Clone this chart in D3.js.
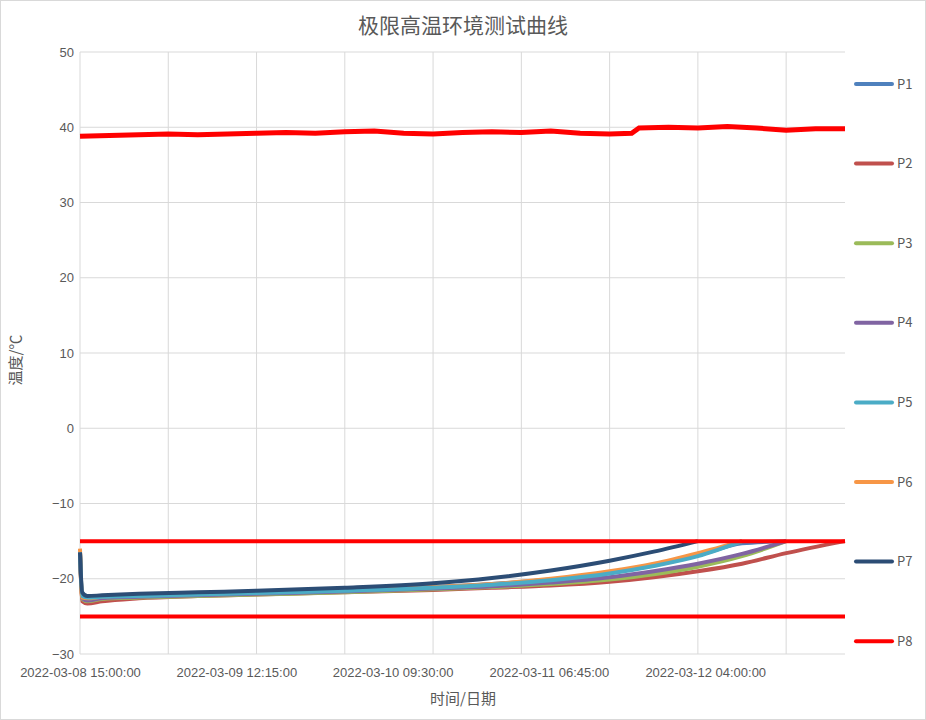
<!DOCTYPE html>
<html lang="zh">
<head>
<meta charset="UTF-8" />
<script src="https://d3js.org/d3.v7.min.js"></script>
<style>
    body { margin: 0; background: #fff; font-family: "Noto Sans CJK SC", "Noto Sans", sans-serif; }
    .axis text { fill: #595959; font-size: 13px; }
</style>
</head>
<body>
<svg id="chart" width="926" height="720"></svg>
<script>
    // hours since 2022-03-08 15:00
    const hours = [0, 0.3, 1, 3, 8, 16, 24, 36, 48, 56, 64, 72, 78, 84, 90, 96, 104];
    const seriesNames = ["P1", "P2", "P3", "P4", "P5", "P6", "P7", "P8"];
    const colors = ["#4f81bd", "#c0504d", "#9bbb59", "#8064a2", "#4bacc6", "#f79646", "#2c4d75", "#ff0000"];
    const p1 = [-16.5, -22.4, -22.6, -22.4, -22.2, -22.0, -21.8, -21.5, -21.1, -20.7, -20.1, -19.2, -18.2, -16.9, -15.3, -15.0, null];
    const p2 = [-16.5, -23.0, -23.3, -23.0, -22.6, -22.3, -22.1, -21.8, -21.5, -21.2, -20.9, -20.4, -19.8, -19.0, -18.0, -16.6, -15.0];
    const p3 = [-16.5, -22.7, -23.0, -22.7, -22.5, -22.3, -22.1, -21.8, -21.4, -21.1, -20.7, -20.1, -19.4, -18.4, -17.0, -15.0, null];
    const p4 = [-16.5, -22.6, -22.9, -22.6, -22.4, -22.2, -22.0, -21.7, -21.3, -21.0, -20.5, -19.8, -19.0, -18.0, -16.7, -15.0, null];
    const p5 = [-16.5, -22.3, -22.5, -22.4, -22.3, -22.1, -21.9, -21.6, -21.2, -20.8, -20.2, -19.3, -18.3, -17.0, -15.0, null, null];
    const p6 = [-16.0, -22.5, -22.6, -22.4, -22.2, -22.0, -21.8, -21.5, -21.1, -20.7, -20.0, -19.0, -18.0, -16.6, -15.0, null, null];
    const p7 = [-16.5, -21.8, -22.3, -22.2, -22.0, -21.8, -21.6, -21.2, -20.6, -19.9, -18.9, -17.6, -16.4, -15.0, null, null, null];
    const p8Hours = [0, 4, 8, 12, 16, 20, 24, 28, 32, 36, 40, 44, 48, 52, 56, 60, 64, 68, 72, 75, 76, 80, 84, 88, 92, 96, 100, 104];
    const p8 = [38.8, 38.9, 39.0, 39.1, 39.0, 39.1, 39.2, 39.3, 39.2, 39.4, 39.5, 39.2, 39.1, 39.3, 39.4, 39.3, 39.5, 39.2, 39.1, 39.2, 39.9, 40.0, 39.9, 40.1, 39.9, 39.6, 39.8, 39.8];
    const limits = [-15, -25];
    const yTicks = [50, 40, 30, 20, 10, 0, -10, -20, -30];
    const xLabels = ["2022-03-08 15:00:00", "2022-03-09 12:15:00", "2022-03-10 09:30:00", "2022-03-11 06:45:00", "2022-03-12 04:00:00"];
    const xLabelHours = [0, 21.25, 42.5, 63.75, 85];
    const gridHours = [0, 12, 24, 36, 48, 60, 72, 84, 96];

    const svg = d3.select("#chart");
    const plotLeft = 80, plotRight = 845, plotTop = 52, plotBottom = 654;
    const x = d3.scaleLinear().domain([0, 104]).range([plotLeft, plotRight]);
    const y = d3.scaleLinear().domain([-30, 50]).range([plotBottom, plotTop]);

    // grid
    svg.append("g").selectAll("line").data(yTicks).join("line")
        .attr("x1", plotLeft).attr("x2", plotRight).attr("y1", d => y(d)).attr("y2", d => y(d))
        .attr("stroke", "#d9d9d9");
    svg.append("g").selectAll("line").data(gridHours).join("line")
        .attr("x1", d => x(d)).attr("x2", d => x(d)).attr("y1", plotTop).attr("y2", plotBottom)
        .attr("stroke", "#d9d9d9");

    // axes
    svg.append("g").attr("class", "axis")
        .attr("transform", `translate(${plotLeft - 6},0)`)
        .call(d3.axisLeft(y).tickValues(yTicks).tickSize(0).tickPadding(0))
        .call(g => g.select(".domain").remove());
    svg.append("g").attr("class", "axis")
        .attr("transform", `translate(0,${plotBottom + 8})`)
        .call(d3.axisBottom(x).tickValues(xLabelHours).tickSize(0).tickPadding(6)
            .tickFormat((d, i) => xLabels[i]))
        .call(g => g.select(".domain").remove());

    const line = d3.line()
        .defined(d => d[1] !== null)
        .x(d => x(d[0])).y(d => y(d[1]))
        .curve(d3.curveMonotoneX);

    const plist = [p1, p2, p3, p4, p5, p6, p7];
    const drawOrder = [1, 2, 3, 0, 5, 4, 6];
    drawOrder.forEach(i => {
        svg.append("path")
            .attr("d", line(hours.map((h, k) => [h, plist[i][k]])))
            .attr("fill", "none").attr("stroke", colors[i]).attr("stroke-width", 4);
    });

    svg.append("path")
        .attr("d", d3.line().x(d => x(d[0])).y(d => y(d[1]))(p8Hours.map((h, k) => [h, p8[k]])))
        .attr("fill", "none").attr("stroke", colors[7]).attr("stroke-width", 5);

    svg.append("g").selectAll("line").data(limits).join("line")
        .attr("x1", plotLeft).attr("x2", plotRight).attr("y1", d => y(d)).attr("y2", d => y(d))
        .attr("stroke", "#ff0000").attr("stroke-width", 4);

    // legend
    const lg = svg.append("g").selectAll("g").data(seriesNames).join("g")
        .attr("transform", (d, i) => `translate(856,${84 + i * 79.6})`);
    lg.append("line").attr("x1", 0).attr("x2", 36)
        .attr("stroke", (d, i) => colors[i]).attr("stroke-width", 4).attr("stroke-linecap", "round");
    lg.append("text").attr("x", 41).attr("y", 4.5).attr("fill", "#595959").attr("font-size", 13).text(d => d);

    // titles
    svg.append("text").attr("x", 463).attr("y", 33).attr("text-anchor", "middle")
        .attr("fill", "#595959").attr("font-size", 21).text("极限高温环境测试曲线");
    svg.append("text").attr("x", 463).attr("y", 704).attr("text-anchor", "middle")
        .attr("fill", "#595959").attr("font-size", 15).text("时间/日期");
    svg.append("text").attr("transform", "translate(21,360) rotate(-90)").attr("text-anchor", "middle")
        .attr("fill", "#595959").attr("font-size", 15).text("温度/℃");

    // chart border
    svg.append("rect").attr("x", 0.5).attr("y", 0.5).attr("width", 925).attr("height", 719)
        .attr("fill", "none").attr("stroke", "#d9d9d9");
</script>
</body>
</html>
